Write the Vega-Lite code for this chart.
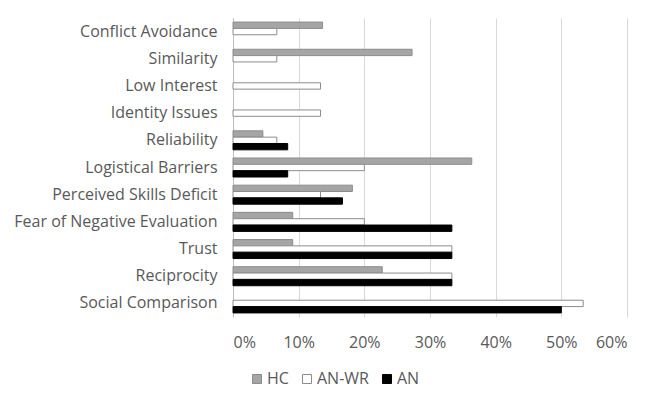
{
  "$schema": "https://vega.github.io/schema/vega-lite/v6.json",
  "width": 394,
  "height": 299,
  "autosize": {"type": "none"},
  "padding": {"left": 233, "top": 18, "right": 35, "bottom": 89},
  "background": "white",
  "config": {
    "view": {"stroke": null},
    "font": "Open Sans",
    "legend": {
      "orient": "none",
      "legendX": 16,
      "legendY": 353,
      "direction": "horizontal",
      "symbolType": "square",
      "symbolSize": 81,
      "symbolStrokeWidth": 1,
      "labelFontSize": 16,
      "labelColor": "#595959",
      "labelOffset": 2,
      "columnPadding": 10,
      "padding": 0,
      "title": null
    }
  },
  "data": {
    "values": [
      {"category": "Conflict Avoidance", "group": "HC", "value": 0.1364},
      {"category": "Conflict Avoidance", "group": "AN-WR", "value": 0.0667},
      {"category": "Similarity", "group": "HC", "value": 0.2727},
      {"category": "Similarity", "group": "AN-WR", "value": 0.0667},
      {"category": "Low Interest", "group": "AN-WR", "value": 0.1333},
      {"category": "Identity Issues", "group": "AN-WR", "value": 0.1333},
      {"category": "Reliability", "group": "HC", "value": 0.0455},
      {"category": "Reliability", "group": "AN-WR", "value": 0.0667},
      {"category": "Reliability", "group": "AN", "value": 0.0833},
      {"category": "Logistical Barriers", "group": "HC", "value": 0.3636},
      {"category": "Logistical Barriers", "group": "AN-WR", "value": 0.2},
      {"category": "Logistical Barriers", "group": "AN", "value": 0.0833},
      {"category": "Perceived Skills Deficit", "group": "HC", "value": 0.1818},
      {"category": "Perceived Skills Deficit", "group": "AN-WR", "value": 0.1333},
      {"category": "Perceived Skills Deficit", "group": "AN", "value": 0.1667},
      {"category": "Fear of Negative Evaluation", "group": "HC", "value": 0.0909},
      {"category": "Fear of Negative Evaluation", "group": "AN-WR", "value": 0.2},
      {"category": "Fear of Negative Evaluation", "group": "AN", "value": 0.3333},
      {"category": "Trust", "group": "HC", "value": 0.0909},
      {"category": "Trust", "group": "AN-WR", "value": 0.3333},
      {"category": "Trust", "group": "AN", "value": 0.3333},
      {"category": "Reciprocity", "group": "HC", "value": 0.2273},
      {"category": "Reciprocity", "group": "AN-WR", "value": 0.3333},
      {"category": "Reciprocity", "group": "AN", "value": 0.3333},
      {"category": "Social Comparison", "group": "AN-WR", "value": 0.5333},
      {"category": "Social Comparison", "group": "AN", "value": 0.5}
    ]
  },
  "mark": {"type": "bar", "strokeWidth": 1},
  "encoding": {
    "y": {
      "field": "category",
      "type": "nominal",
      "sort": ["Conflict Avoidance", "Similarity", "Low Interest", "Identity Issues", "Reliability", "Logistical Barriers", "Perceived Skills Deficit", "Fear of Negative Evaluation", "Trust", "Reciprocity", "Social Comparison"],
      "scale": {"paddingInner": 0.3, "paddingOuter": 0.15},
      "axis": {
        "title": null,
        "ticks": false,
        "grid": false,
        "domainColor": "#BFBFBF",
        "labelFontSize": 16,
        "labelColor": "#595959",
        "labelPadding": 16,
        "labelLimit": 300
      }
    },
    "x": {
      "field": "value",
      "type": "quantitative",
      "scale": {"domain": [0, 0.6], "nice": false},
      "axis": {
        "title": null,
        "format": ".0%",
        "values": [0, 0.1, 0.2, 0.3, 0.4, 0.5, 0.6],
        "domain": false,
        "ticks": false,
        "gridColor": "#D9D9D9",
        "labelFontSize": 16,
        "labelColor": "#595959",
        "labelPadding": 17
      }
    },
    "yOffset": {
      "field": "group",
      "type": "nominal",
      "sort": ["HC", "AN-WR", "AN"],
      "scale": {"domain": ["HC", "AN-WR", "AN"], "paddingInner": 0, "paddingOuter": 0}
    },
    "fill": {
      "field": "group",
      "type": "nominal",
      "scale": {"domain": ["HC", "AN-WR", "AN"], "range": ["#A5A5A5", "#FFFFFF", "#000000"]}
    },
    "stroke": {
      "field": "group",
      "type": "nominal",
      "scale": {"domain": ["HC", "AN-WR", "AN"], "range": ["#8C8C8C", "#8C8C8C", "#000000"]}
    }
  }
}
